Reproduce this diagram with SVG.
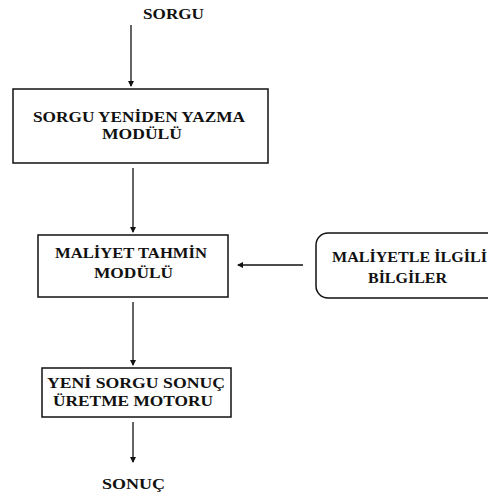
<svg xmlns="http://www.w3.org/2000/svg" width="488" height="498" viewBox="0 0 488 498">
<style>
text{font-family:"Liberation Serif","Times New Roman",serif;font-weight:bold;font-size:15px;fill:#111;}
.box{fill:#fff;stroke:#111;stroke-width:1.5;}
.c{stroke:#111;stroke-width:1.3;fill:none;marker-end:url(#ah);}
</style>
<defs>
<marker id="ah" markerWidth="6" markerHeight="8" refX="5" refY="4" orient="auto" markerUnits="userSpaceOnUse">
<path d="M0,1 L6,4 L0,7 Z" fill="#111"/>
</marker>
</defs>
<rect width="488" height="498" fill="#fff"/>
<g id="connectors">
<line class="c" x1="131" y1="25" x2="131" y2="86"/>
<line class="c" x1="133" y1="168" x2="133" y2="232"/>
<line class="c" x1="303" y1="265" x2="238" y2="265"/>
<line class="c" x1="133" y1="302" x2="133" y2="365"/>
<line class="c" x1="133" y1="422" x2="133" y2="462"/>
</g>
<g id="sorgu">
<text x="143" y="19" textLength="61" lengthAdjust="spacingAndGlyphs">SORGU</text>
</g>
<g id="yazma">
<rect class="box" x="13" y="89" width="255" height="74"/>
<text x="33" y="122" textLength="212" lengthAdjust="spacingAndGlyphs">SORGU YENİDEN YAZMA</text>
<text x="102" y="139" textLength="80" lengthAdjust="spacingAndGlyphs">MODÜLÜ</text>
</g>
<g id="maliyet">
<rect class="box" x="38" y="235" width="190" height="62"/>
<text x="55" y="258" textLength="152" lengthAdjust="spacingAndGlyphs">MALİYET TAHMİN</text>
<text x="94" y="278" textLength="79" lengthAdjust="spacingAndGlyphs">MODÜLÜ</text>
</g>
<g id="bilgiler">
<rect class="box" x="316" y="233" width="190" height="65" rx="12" ry="12"/>
<text x="332" y="262" textLength="155" lengthAdjust="spacingAndGlyphs">MALİYETLE İLGİLİ</text>
<text x="368" y="283" textLength="79" lengthAdjust="spacingAndGlyphs">BİLGİLER</text>
</g>
<g id="motor">
<rect class="box" x="42" y="368" width="189" height="49"/>
<text x="47" y="388" textLength="178" lengthAdjust="spacingAndGlyphs">YENİ SORGU SONUÇ</text>
<text x="53" y="406" textLength="160" lengthAdjust="spacingAndGlyphs">ÜRETME MOTORU</text>
</g>
<g id="sonuc">
<text x="102" y="489" textLength="63" lengthAdjust="spacingAndGlyphs">SONUÇ</text>
</g>
</svg>
